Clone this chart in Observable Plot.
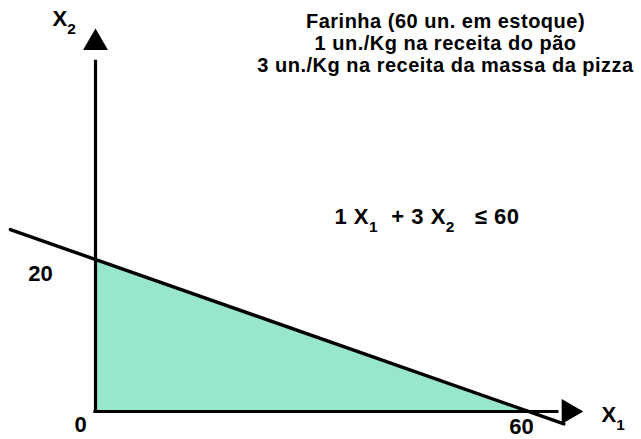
<!DOCTYPE html>
<html>
<head>
<meta charset="utf-8">
<script src="https://cdn.jsdelivr.net/npm/d3@7"></script>
<script src="https://cdn.jsdelivr.net/npm/@observablehq/plot@0.6"></script>
<style>
  html, body { margin: 0; padding: 0; background: #fff; }
  #chart svg { display: block; }
</style>
</head>
<body>
<div id="chart"></div>
<script>
// Constraint: a*X1 + b*X2 <= c
const coefA = 1, coefB = 3, coefC = 60;
const titleLines = [
  "Farinha (60 un. em estoque)",
  "1 un./Kg na receita do pão",
  "3 un./Kg na receita da massa da pizza"
];
const equationLabel = "1 X_1  + 3 X_2   ≤ 60";
const xTicks = [60];
const yTicks = [20];
const originLabel = ["0"];
// feasible region vertices (upper boundary)
const regionX = [0, 60];
const regionY = [20, 0];
// drawn extent of the constraint line
const lineX = [-11.8, 64.9];
const axisXEnd = 64;
const axisYEnd = 46;
const arrowX = 65.6;
const arrowY = 48.5;

const region = regionX.map((x, i) => ({x, y: regionY[i]}));
const constraintLine = lineX.map(x => ({x, y: (coefC - coefA * x) / coefB}));

const fillColor = "#98e6cc";

const chart = Plot.plot({
  width: 641,
  height: 439,
  marginLeft: 0, marginRight: 0, marginTop: 0, marginBottom: 0,
  x: {domain: [0, 60], range: [95, 528], axis: null},
  y: {domain: [0, 20], range: [411, 259], axis: null},
  style: {fontFamily: "'Liberation Sans', Arial, sans-serif", fontWeight: "bold", background: "#fff"},
  marks: [
    Plot.areaY(region, {x: "x", y: "y", fill: fillColor}),
    Plot.ruleX([0], {y1: 0, y2: axisYEnd, stroke: "black", strokeWidth: 3.2, strokeLinecap: "square"}),
    Plot.ruleY([0], {x1: 0, x2: axisXEnd, stroke: "black", strokeWidth: 3.2, strokeLinecap: "square"}),
    Plot.dot([{x: 0, y: arrowY}], {x: "x", y: "y", symbol: "triangle2", r: 11.9, fill: "black", stroke: null}),
    Plot.dot([{x: arrowX, y: 0}], {x: "x", y: "y", symbol: "triangle2", r: 11.9, fill: "black", stroke: null, rotate: 90}),
    Plot.line(constraintLine, {x: "x", y: "y", stroke: "black", strokeWidth: 3.4, strokeLinecap: "round"}),
    Plot.text(yTicks, {x: 0, y: d => d, text: d => String(d), dx: -55, dy: 14, fontSize: 22, fill: "black"}),
    Plot.text(xTicks, {x: d => d, y: 0, text: d => String(d), dx: -7, dy: 15, fontSize: 22, fill: "black"}),
    Plot.text(originLabel, {x: 0, y: 0, text: d => d, dx: -15, dy: 13, fontSize: 22, fill: "black"}),
    Plot.text(["X_2"], {frameAnchor: "top-left", dx: 52, dy: 10, textAnchor: "start", fontSize: 22, fill: "black"}),
    Plot.text(["X_1"], {frameAnchor: "top-left", dx: 601, dy: 406, textAnchor: "start", fontSize: 22, fill: "black"}),
    Plot.text([equationLabel], {frameAnchor: "top-left", dx: 334, dy: 208, textAnchor: "start", fontSize: 22, fill: "black"}),
    Plot.text([titleLines.join("\n")], {frameAnchor: "top", dx: 124.5, dy: 12, lineAnchor: "top", lineHeight: 1.1, fontSize: 20, fill: "black"})
  ]
});

// letter spacing for the annotation texts
d3.select(chart).selectAll("text").filter(function() { return this.textContent.startsWith("Farinha"); })
  .style("letter-spacing", "0.5px");
d3.select(chart).selectAll("text").filter(function() { return this.textContent.startsWith("1 X_1"); })
  .style("letter-spacing", "0.5px");

function fontSizeOf(el) {
  for (let n = el; n && n.getAttribute; n = n.parentNode) {
    const v = n.getAttribute("font-size");
    if (v) return parseFloat(v);
  }
  return 16;
}

// render "X_1" style subscripts as real tspans
d3.select(chart).selectAll("text").each(function() {
  const el = this;
  if (el.querySelector("tspan")) return;
  const t = el.textContent;
  if (!t.includes("_")) return;
  const fs = fontSizeOf(el);
  const parts = t.split(/_(\d)/);
  el.textContent = "";
  const ns = "http://www.w3.org/2000/svg";
  parts.forEach((p, i) => {
    if (p === "") return;
    const ts = document.createElementNS(ns, "tspan");
    ts.textContent = p;
    if (i % 2 === 1) {
      ts.setAttribute("font-size", fs * 0.7);
      ts.setAttribute("dy", fs * 0.34);
    } else if (i > 0) {
      ts.setAttribute("dy", -fs * 0.34);
    }
    el.appendChild(ts);
  });
});

document.getElementById("chart").appendChild(chart);
</script>
</body>
</html>
